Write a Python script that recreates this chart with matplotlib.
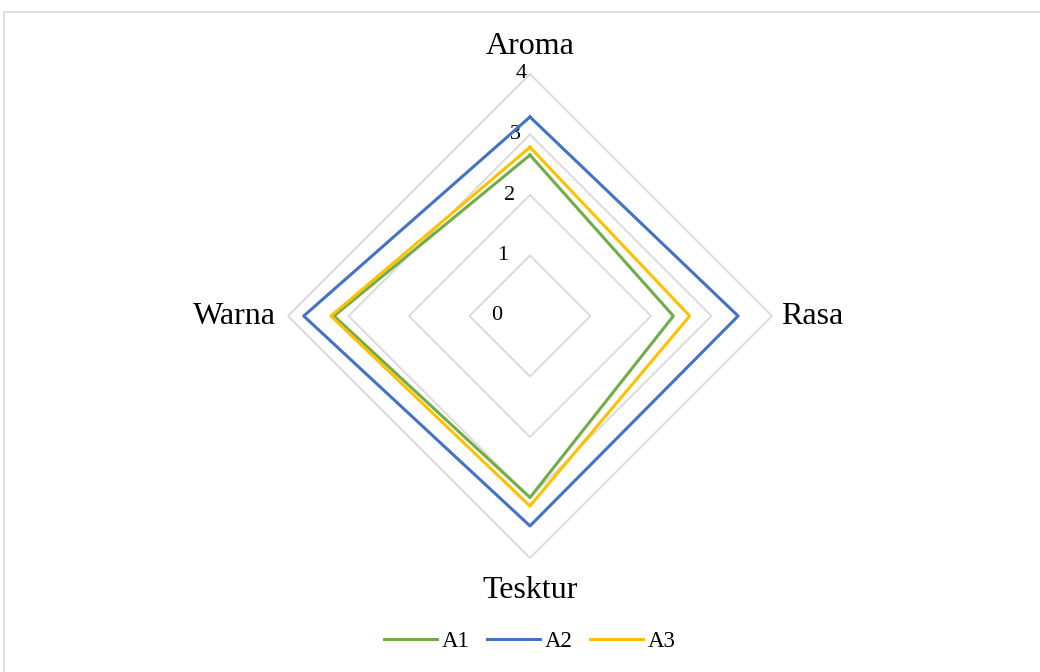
import numpy as np
import matplotlib.pyplot as plt
from matplotlib.patches import Rectangle
from matplotlib.lines import Line2D

plt.rcParams['font.family'] = ['Liberation Serif', 'DejaVu Serif']

# data ------------------------------------------------------------
categories = ["Aroma", "Rasa", "Tesktur", "Warna"]
A1 = [2.66, 2.37, 3.0, 3.24]
A2 = [3.29, 3.44, 3.47, 3.74]
A3 = [2.79, 2.64, 3.14, 3.29]
series = {"A1": A1, "A2": A2, "A3": A3}
colors = {"A1": "#70AD47", "A2": "#4472C4", "A3": "#FFC000"}
ticks = [0, 1, 2, 3, 4]

angles = np.linspace(0, 2*np.pi, len(categories), endpoint=False)
closed = np.append(angles, angles[0])

fig = plt.figure(figsize=(10.4, 6.72), dpi=100)
fig.patches.append(Rectangle((4/1040, -0.01), 1.05, (672-12)/672 + 0.01,
                             transform=fig.transFigure, fill=False,
                             edgecolor="#D9D9D9", lw=1.2))

ax = fig.add_axes([288/1040, 114/672, 484/1040, 484/672], projection='polar')
ax.set_theta_offset(np.pi/2)
ax.set_theta_direction(-1)
ax.set_ylim(0, 4)
ax.grid(False)
ax.spines['polar'].set_visible(False)
ax.set_xticks([])
ax.set_yticks([])
ax.set_facecolor('none')

# polygon grid
for t in ticks[1:]:
    ax.plot(closed, [t]*len(closed), color="#D9D9D9", lw=1.3, zorder=1, clip_on=False)

# tick labels
for t in ticks:
    ax.annotate(str(t), xy=(0, t), xytext=(-6 - 4.5*(4-t), 0), textcoords='offset points',
                ha='center', va='center', fontsize=16, color="#000000")

# series
for name, vals in series.items():
    ax.plot(closed, vals + vals[:1], color=colors[name], lw=2.2, zorder=3, clip_on=False)

# category labels
fs = 23
ax.text(angles[0], 4.45, categories[0], ha='center', va='center', fontsize=fs)
ax.text(angles[1], 4.15, categories[1], ha='left', va='center', fontsize=fs)
ax.text(angles[2], 4.53, categories[2], ha='center', va='center', fontsize=fs)
ax.text(angles[3], 4.2, categories[3], ha='right', va='center', fontsize=fs)

handles = [Line2D([], [], color=colors[n], lw=2.2) for n in series]
fig.legend(handles, list(series.keys()), loc='center', bbox_to_anchor=(530/1040, 1 - 641/672),
           ncol=3, frameon=False, fontsize=16.5, handlelength=2.3, handletextpad=0.22,
           columnspacing=0.75)

fig.savefig("out.png", dpi=100)
